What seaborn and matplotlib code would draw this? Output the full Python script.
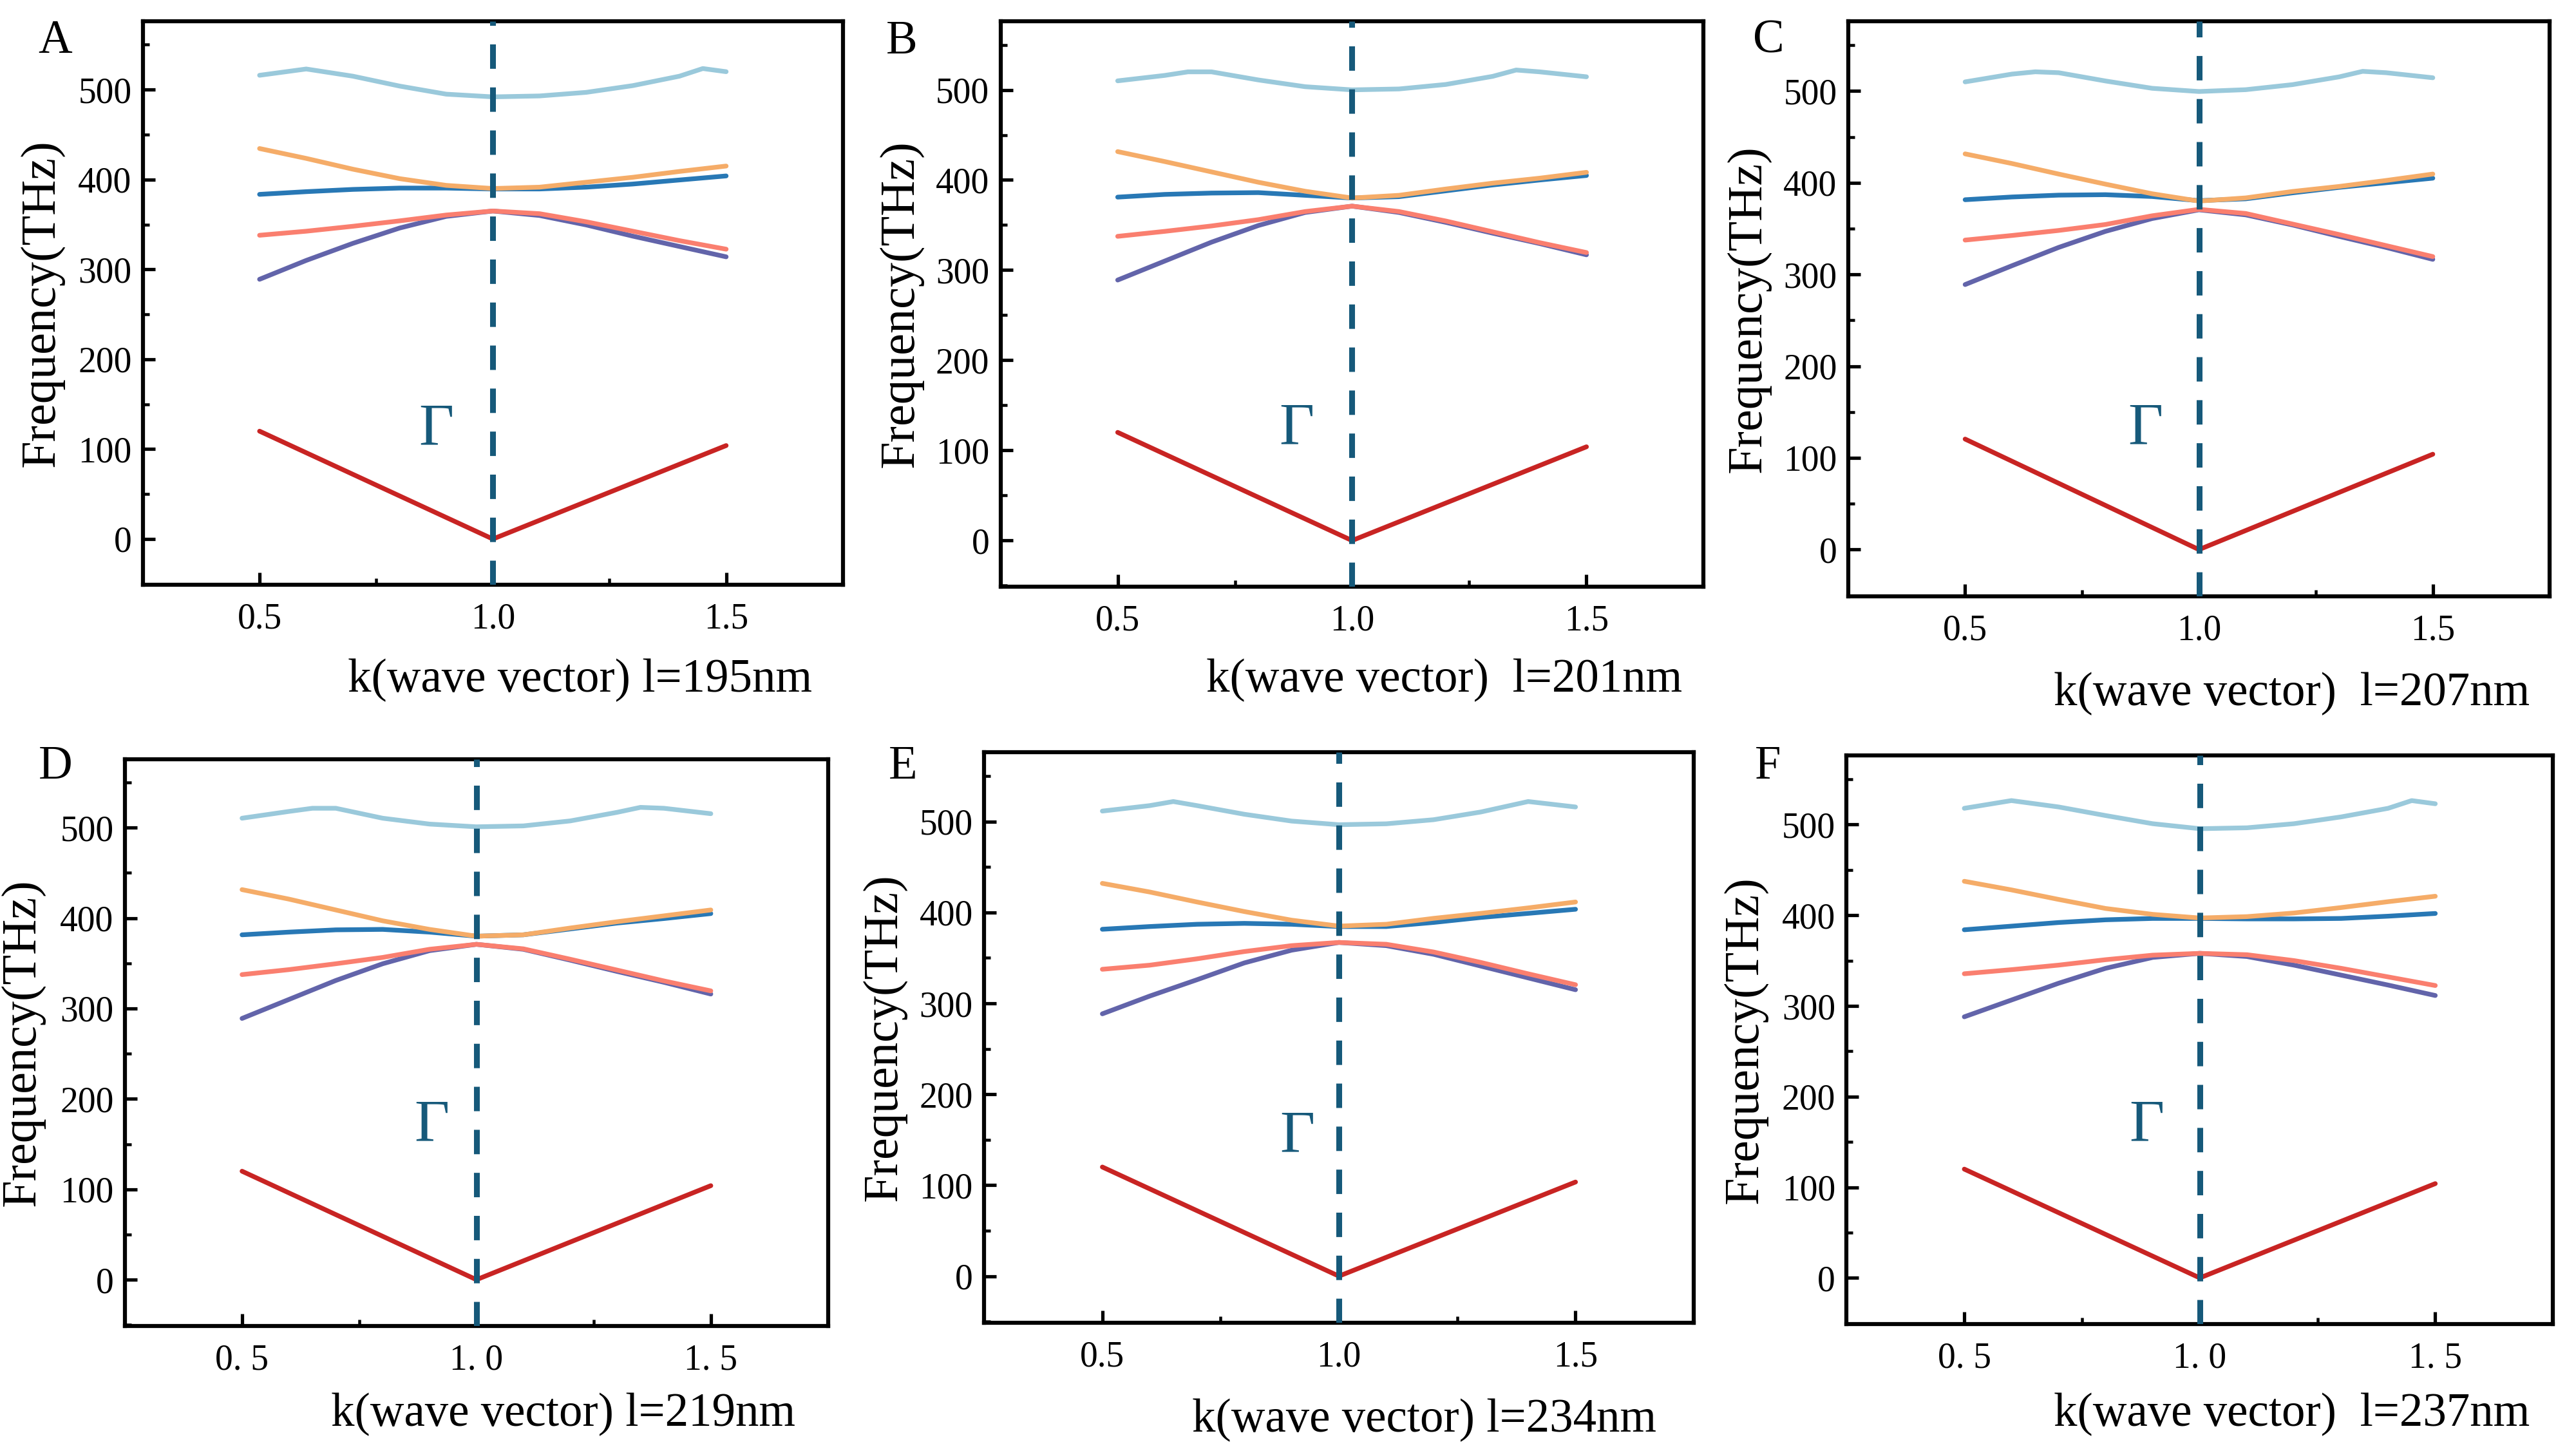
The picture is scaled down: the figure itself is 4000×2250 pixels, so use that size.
import matplotlib
matplotlib.use('Agg')
import matplotlib.pyplot as plt
from matplotlib.ticker import FixedLocator, MultipleLocator
import pandas as pd
import seaborn as sns

# ---- data ----
PANELS = ["A", "B", "C", "D", "E", "F"]
XLABELS = ["k(wave vector) l=195nm", "k(wave vector)  l=201nm", "k(wave vector)  l=207nm",
           "k(wave vector) l=219nm", "k(wave vector) l=234nm", "k(wave vector)  l=237nm"]
XTICKLABELS = {"A": ["0.5", "1.0", "1.5"], "B": ["0.5", "1.0", "1.5"], "C": ["0.5", "1.0", "1.5"],
               "D": ["0. 5", "1. 0", "1. 5"], "E": ["0.5", "1.0", "1.5"], "F": ["0. 5", "1. 0", "1. 5"]}
YTICKS = [0, 100, 200, 300, 400, 500]
XTICKS = [0.5, 1.0, 1.5]

K_RED = [0.5, 1.0, 1.5]
K_GRID = [0.5, 0.6, 0.7, 0.8, 0.9, 1.0, 1.1, 1.2, 1.3, 1.4, 1.5]

RED = {"A": [120, 0, 104], "B": [120, 0, 104], "C": [120.5, 0, 104],
       "D": [120, 0, 104], "E": [120, 0, 103.5], "F": [120, 0, 104]}

PURPLE = {
    "A": [289, 310, 329, 346, 359, 365, 360, 349.5, 337, 325.5, 314],
    "B": [289, 310, 331, 349.5, 364, 371, 364, 353, 341, 329.5, 317],
    "C": [289, 309.5, 329.5, 347, 361, 370.5, 365, 354, 341.5, 329.5, 316.5],
    "D": [289, 310, 331, 349.5, 364, 371, 365.5, 353.5, 341, 329, 316],
    "E": [288.5, 308, 326, 344.5, 358.5, 367, 363.5, 354, 341, 328, 315],
    "F": [288, 306.5, 325, 341.5, 353.5, 358, 354.5, 345, 334, 323, 311.5],
}
SALMON = {
    "A": [338, 342.5, 348, 354, 360.5, 365, 362, 353, 342.5, 332, 322.5],
    "B": [337.5, 343, 349, 356, 365, 371, 365, 354.5, 342.5, 330.5, 319.5],
    "C": [337.5, 342.5, 348, 354.5, 364, 371, 366.5, 355, 343.5, 331.5, 319.5],
    "D": [337.5, 343, 349.5, 356.5, 365.5, 371, 366, 354.5, 342.5, 330.5, 319.5],
    "E": [337.5, 342, 349, 357, 363.5, 367, 365, 356.5, 345, 332.5, 320.5],
    "F": [335.5, 340, 345, 351, 356, 358, 356.5, 350, 341.5, 332, 322.5],
}
BLUE = {
    "A": [383.5, 386.5, 389, 390.5, 390.5, 389.5, 389.5, 391.5, 395, 399.5, 404],
    "B": [381, 384, 385.5, 386, 383, 380, 381.5, 388, 394.5, 400, 405],
    "C": [381.5, 384.5, 386.5, 387, 385, 380.5, 382.5, 389, 395, 400, 405],
    "D": [381.5, 384.5, 387, 387.5, 384.5, 380, 381.5, 388, 394.5, 399.5, 405],
    "E": [381.5, 384.5, 387, 388, 387, 384.5, 384.5, 389, 394.5, 399, 403.5],
    "F": [384, 388, 392, 395, 396.5, 396.5, 396, 396, 396.5, 399, 402],
}
ORANGE = {
    "A": [434.5, 423.5, 411.5, 401, 393.5, 390, 391.5, 397, 402.5, 409, 415],
    "B": [431.5, 420.5, 409, 397.5, 387.5, 380, 383, 390, 396.5, 402, 408.5],
    "C": [431.5, 421, 409.5, 398.5, 388, 380, 383.5, 390.5, 396, 402.5, 409.5],
    "D": [431.5, 421, 409, 397, 387.5, 380, 381.5, 389, 396, 402.5, 409],
    "E": [432, 422.5, 411.5, 401, 391.5, 385, 387, 393.5, 399, 405, 411.5],
    "F": [437.5, 428, 417.5, 407.5, 401, 397, 398.5, 402.5, 408.5, 415, 421],
}
SKY_K = {
    "A": [0.5, 0.6, 0.65, 0.7, 0.8, 0.9, 1.0, 1.1, 1.2, 1.3, 1.4, 1.45, 1.5],
    "B": [0.5, 0.6, 0.65, 0.7, 0.8, 0.9, 1.0, 1.1, 1.2, 1.3, 1.35, 1.4, 1.5],
    "C": [0.5, 0.6, 0.65, 0.7, 0.8, 0.9, 1.0, 1.1, 1.2, 1.3, 1.35, 1.4, 1.5],
    "D": [0.5, 0.6, 0.65, 0.7, 0.8, 0.9, 1.0, 1.1, 1.2, 1.3, 1.35, 1.4, 1.5],
    "E": [0.5, 0.6, 0.65, 0.7, 0.8, 0.9, 1.0, 1.1, 1.2, 1.3, 1.4, 1.5],
    "F": [0.5, 0.6, 0.7, 0.8, 0.9, 1.0, 1.1, 1.2, 1.3, 1.4, 1.45, 1.5],
}
SKY = {
    "A": [516, 523, 519, 515, 504, 495, 492, 493, 497, 504.5, 515, 523.5, 520],
    "B": [510, 516, 520, 520, 511, 503.5, 500, 501, 506, 515, 522, 520, 514.5],
    "C": [510, 518.5, 521, 520, 511, 503, 499.5, 501.5, 507, 515.5, 521.5, 520, 514.5],
    "D": [510.5, 518, 521.5, 521.5, 510.5, 504, 501, 502, 507.5, 517, 522.5, 521.5, 515.5],
    "E": [511.5, 517.5, 522, 517.5, 508, 500.5, 496.5, 497.5, 502, 510.5, 522, 516],
    "F": [518, 526.5, 519.5, 510, 501, 495.5, 496.5, 501, 508.5, 518, 526.5, 523],
}

# ---- styling / layout ----
BAND_ORDER = ["red", "purple", "salmon", "blue", "orange", "sky"]
BAND_COLORS = {"red": "#C82423", "purple": "#6264AA", "salmon": "#FA7F6F",
               "blue": "#2878B5", "orange": "#F5AC68", "sky": "#9AC9DB"}
GAMMA_COLOR = "#16597A"

W, H = 1568, 882
# axes boxes in reference pixels: left, right, top, bottom
BOXES = {"A": (87, 513, 13, 356), "B": (609, 1037, 13, 357), "C": (1125, 1552, 13, 363),
         "D": (76, 504, 462, 807), "E": (599, 1031, 458, 805), "F": (1124, 1554, 460, 806)}
LETTER_POS = {"A": (33.5, 25), "B": (549, 25.7), "C": (1076.6, 25),
              "D": (33.6, 466.8), "E": (549.5, 466.8), "F": (1076, 466.8)}
GAMMA_POS = {"A": (0.879, 121), "B": (0.882, 123), "C": (0.886, 131),
             "D": (0.904, 170), "E": (0.912, 153), "F": (0.887, 167)}
XLABEL_Y = {"A": -0.169, "B": -0.166, "C": -0.170, "D": -0.156, "E": -0.171, "F": -0.159}
YLABEL_X = {"A": -0.112, "B": -0.110, "C": -0.110, "D": -0.114, "E": -0.109, "F": -0.112}


def panel_frame(p):
    parts = [("red", K_RED, RED[p]), ("purple", K_GRID, PURPLE[p]), ("salmon", K_GRID, SALMON[p]),
             ("blue", K_GRID, BLUE[p]), ("orange", K_GRID, ORANGE[p]), ("sky", SKY_K[p], SKY[p])]
    rows = []
    for band, ks, vals in parts:
        rows += [{"k": k, "freq": v, "band": band} for k, v in zip(ks, vals)]
    return pd.DataFrame(rows)


sns.set_theme(style="ticks")
plt.rcParams['font.family'] = ['Liberation Serif', 'DejaVu Serif']
plt.rcParams['axes.edgecolor'] = 'black'
plt.rcParams['xtick.color'] = 'black'
plt.rcParams['ytick.color'] = 'black'
plt.rcParams['text.color'] = 'black'
plt.rcParams['axes.labelcolor'] = 'black'

fig = plt.figure(figsize=(16, 9), dpi=250)

for i, p in enumerate(PANELS):
    l, r, t, b = BOXES[p]
    ax = fig.add_axes([l / W, 1 - b / H, (r - l) / W, (b - t) / H])
    df = panel_frame(p)
    sns.lineplot(data=df, x="k", y="freq", hue="band", hue_order=BAND_ORDER,
                 palette=BAND_COLORS, estimator=None, linewidth=2.1, legend=False,
                 solid_capstyle='round', solid_joinstyle='round', ax=ax)
    ax.axvline(1.0, color=GAMMA_COLOR, lw=2.6, ls=(0, (4.2, 3.2)), zorder=5)
    gx, gy = GAMMA_POS[p]
    ax.text(gx, gy, "Γ", fontsize=27, color=GAMMA_COLOR, ha='center', va='center')

    ax.set_xlim(0.25, 1.75)
    ax.set_ylim(-51, 576)
    ax.set_xticks(XTICKS)
    ax.set_xticklabels(XTICKLABELS[p])
    ax.xaxis.set_minor_locator(FixedLocator([0.75, 1.25]))
    ax.set_yticks(YTICKS)
    ax.yaxis.set_minor_locator(MultipleLocator(50))
    ax.tick_params(axis='both', which='major', direction='in', length=5.5, width=1.5,
                   labelsize=16, top=False, right=False)
    ax.tick_params(axis='x', which='major', pad=8)
    ax.tick_params(axis='y', which='major', pad=5)
    ax.tick_params(axis='both', which='minor', direction='in', length=2.8, width=1.3,
                   top=False, right=False)
    for s in ax.spines.values():
        s.set_linewidth(1.8)
        s.set_color('black')

    ax.set_ylabel("Frequency(THz)", fontsize=22)
    ax.yaxis.set_label_coords(YLABEL_X[p], 0.5)
    ax.set_xlabel(XLABELS[i], fontsize=21, ha='left', va='center')
    ax.xaxis.set_label_coords(0.293, XLABEL_Y[p])

    lx, ly = LETTER_POS[p]
    fig.text(lx / W, 1 - ly / H, p, fontsize=21, ha='center', va='center')

fig.savefig("out.png", dpi=250)
